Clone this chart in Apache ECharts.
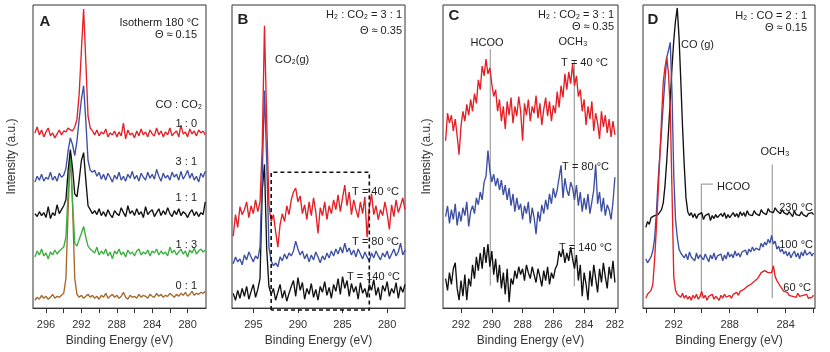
<!DOCTYPE html>
<html>
<head>
<meta charset="utf-8">
<script src="https://cdn.jsdelivr.net/npm/echarts@6/dist/echarts.min.js"></script>
<style>
html, body { margin: 0; padding: 0; background: #fff; }
#chart { width: 830px; height: 352px; }
</style>
</head>
<body>
<div id="chart"></div>
<script>
// binding energy grids (eV)
const energyWide = [297.25, 297, 296.75, 296.5, 296.25, 296, 295.75, 295.5, 295.25, 295,
  294.75, 294.5, 294.25, 294, 293.75, 293.5, 293.25, 293, 292.75, 292.5,
  292.25, 292, 291.75, 291.5, 291.25, 291, 290.75, 290.5, 290.25, 290,
  289.75, 289.5, 289.25, 289, 288.75, 288.5, 288.25, 288, 287.75, 287.5,
  287.25, 287, 286.75, 286.5, 286.25, 286, 285.75, 285.5, 285.25, 285,
  284.75, 284.5, 284.25, 284, 283.75, 283.5, 283.25, 283, 282.75, 282.5,
  282.25, 282, 281.75, 281.5, 281.25, 281, 280.75, 280.5, 280.25, 280,
  279.75, 279.5, 279.25, 279, 278.75, 278.5, 278.25, 278];
const energyC = [293, 292.875, 292.75, 292.625, 292.5, 292.375, 292.25, 292.125, 292,
  291.875, 291.75, 291.625, 291.5, 291.375, 291.25, 291.125, 291,
  290.875, 290.75, 290.625, 290.5, 290.375, 290.25, 290.125, 290,
  289.875, 289.75, 289.625, 289.5, 289.375, 289.25, 289.125, 289,
  288.875, 288.75, 288.625, 288.5, 288.375, 288.25, 288.125, 288,
  287.875, 287.75, 287.625, 287.5, 287.375, 287.25, 287.125, 287,
  286.875, 286.75, 286.625, 286.5, 286.375, 286.25, 286.125, 286,
  285.875, 285.75, 285.625, 285.5, 285.375, 285.25, 285.125, 285,
  284.875, 284.75, 284.625, 284.5, 284.375, 284.25, 284.125, 284,
  283.875, 283.75, 283.625, 283.5, 283.375, 283.25, 283.125, 283,
  282.875, 282.75, 282.625, 282.5, 282.375, 282.25, 282.125, 282];
const energyD = [294, 293.875, 293.75, 293.625, 293.5, 293.375, 293.25, 293.125].concat(energyC);

// panel A : isotherm 180 C, CO:CO2 ratios
const aRed = [178,184,176,181,174,179,183,175,178,173, 177,181,176,180,179,183,181,180,184,192,
  218,262,304,250,195,183,180,176,181,175, 179,177,182,174,178,176,180,174,179,175,
  188,172,181,176,178,173,180,175,182,176, 179,174,181,177,175,183,176,180,174,179,
  176,183,175,178,180,174,186,177,179,174, 182,177,180,175,181,178,180,176];
const aBlue = [128,134,130,136,129,133,131,138,130,134, 129,137,133,135,142,160,173,166,155,170,
  192,212,226,190,150,140,138,140,134,138, 131,136,130,137,133,128,135,131,138,130,
  134,129,136,132,139,131,135,129,137,133, 130,138,132,136,131,141,134,129,137,132,
  135,130,138,133,136,130,139,131,135,140, 132,137,130,134,128,137,133,139];
const aBlack = [96,93,98,94,97,92,103,91,97,94, 105,96,100,104,110,140,161,142,116,113,
  130,150,158,130,104,100,96,99,95,101, 94,98,93,100,95,92,99,96,94,102,
  97,93,104,96,99,94,101,95,98,92, 103,95,98,100,93,97,101,94,99,95,
  102,96,93,99,95,101,94,98,96,92, 97,100,94,98,93,97,95,108];
const aGreen = [52,58,54,60,53,56,50,57,54,59, 55,58,60,62,72,118,157,108,66,63,
  70,76,83,72,63,60,58,56,62,54, 58,55,60,53,57,50,58,55,60,54,
  57,52,59,55,57,53,58,60,54,57, 55,59,53,58,56,60,54,58,55,57,
  53,62,56,59,54,57,60,55,58,52, 59,56,61,55,58,60,57,59];
const aBrown = [8,11,9,13,10,12,9,11,14,10, 12,11,13,15,30,100,158,105,30,14,
  11,13,10,12,14,11,13,10,12,9, 13,11,15,10,12,14,11,13,10,12,
  16,11,9,13,11,12,10,14,11,13, 12,10,14,12,11,15,12,14,11,13,
  12,15,13,11,14,12,15,13,16,12, 14,17,13,15,14,16,15,17];

// panel B : H2:CO2 = 3:1
const bRed = [73,95,82,103,95,100,108,92,104,96, 110,98,108,165,287,190,105,88,95,78,
  62,85,96,88,104,95,110,118,122,108, 114,96,105,90,108,94,112,98,76,102,
  94,108,90,104,96,110,100,115,98,112, 125,104,118,95,110,100,92,108,96,113,
  72,102,116,95,104,90,100,94,108,96, 80,105,93,110,97,104,112,100];
const bBlue = [45,52,47,50,44,54,49,57,52,47, 53,50,62,135,221,150,62,48,43,46,
  42,52,48,55,50,56,53,58,68,60, 54,58,50,55,47,54,49,57,52,46,
  53,49,56,51,58,53,60,55,62,56, 66,57,61,54,59,52,60,55,50,57,
  52,48,56,51,58,53,49,56,52,58, 50,55,60,53,57,66,54,59];
const bBlack = [15,8,18,10,20,12,22,9,17,24, 11,19,30,120,146,60,22,14,20,8,
  16,24,10,18,7,15,22,28,12,31, 18,26,9,20,14,25,11,19,8,22,
  16,27,13,21,10,24,17,30,14,32, 20,28,12,25,16,22,9,26,15,20,
  11,24,18,29,13,21,8,23,17,27, 12,20,15,26,10,22,16,24];

// panel C : zoom of B
const cRed = [170,198,188,196,180,192,175,156,185,200, 190,207,196,212,200,218,208,232,222,246,
  236,253,238,244,228,215,222,200,212,190, 205,182,210,196,214,188,205,195,215,200,
  170,208,196,212,190,205,198,216,193,208, 186,202,214,195,210,190,206,198,220,204,
  226,214,238,222,240,228,248,226,236,215, 222,200,212,186,205,192,210,180,198,188,
  172,200,184,196,178,192,174,190,176];
const cBlue = [93,104,86,100,90,106,84,98,88,102, 94,108,83,98,104,96,112,105,118,110,
  128,134,160,140,128,136,124,132,120,130, 115,125,110,122,104,116,98,112,100,106,
  90,104,96,108,86,102,92,75,98,88, 105,96,110,100,116,106,122,112,120,118,
  145,112,132,120,114,128,122,110,125,104, 118,98,112,100,116,96,108,120,146,106,
  118,98,112,94,105,100,90,108,133];
const cBlack = [30,18,36,24,40,46,20,8,28,12, 34,8,30,22,44,30,52,38,56,40,
  62,46,65,42,58,34,50,26,44,20, 36,14,40,6,30,24,38,30,42,34,
  40,28,44,36,30,42,34,26,40,32, 22,38,28,42,24,36,30,40,44,58,
  52,60,46,56,48,62,50,40,54,28, 44,12,36,24,8,38,22,44,30,16,
  40,26,46,32,20,42,30,48,26];

// panel D : H2:CO = 2:1
const dBlack = [82,88,85,92,90,94,93,95,97,100, 107,125,150,180,212,245,272,292,305,276,
  232,185,145,112,98,94,97,92,96,91, 95,93,97,90,94,92,96,89,94,91,
  95,92,90,96,93,97,91,95,92,94, 97,93,96,92,98,94,97,93,99,95,
  97,94,99,96,98,94,100,97,99,95, 101,98,100,97,102,99,101,96,100,97,
  99,95,98,96,93,99,95,97,94,98, 95,97,93,96,94,97,95];
const dBlue = [50,46,44,52,58,70,95,128,155,180, 208,232,255,262,270,218,135,90,72,60,
  56,58,51,55,49,57,52,54,48,56, 50,54,52,49,55,51,47,54,50,56,
  49,53,51,55,48,54,50,57,52,55, 51,58,53,56,52,57,55,59,54,60,
  57,62,58,61,63,59,66,62,67,64, 70,66,74,65,68,60,63,57,60,55,
  58,53,57,51,55,58,52,56,50,57, 53,59,54,52,57,53,56];
const dRed = [10,14,12,18,24,48,80,115,153,192, 230,245,255,238,200,118,32,18,14,16,
  11,15,10,13,9,12,8,13,10,14, 9,12,17,10,13,8,12,10,14,9,
  12,11,8,13,10,14,11,9,13,10, 14,12,16,13,17,15,19,17,22,20,
  24,22,27,25,30,33,36,34,38,40, 36,38,36,43,32,28,25,22,20,17,
  15,16,13,15,12,14,11,15,12,10, 13,11,14,10,12,11,13];

// axis ticks / labels
const ticksA = [296, 294, 292, 290, 288, 286, 284, 282, 280];
const labelsA = [296, 292, 288, 284, 280];
const ticksB = [295, 290, 285, 280];
const ticksC = [292, 290, 288, 286, 284, 282];
const ticksD = [294, 292, 290, 288, 286, 284, 282];
const labelsD = [292, 288, 284];

// reference lines (energy, from, to)
const refC = [[290.1, 23, 263], [284.64, 22, 252]];
const refD = [[290.03, 10, 126], [284.96, 10, 146]];
const leaderD = [[290.03, 126], [289.2, 126]];
// zoom window shown in B
const boxB = [[293, -2], [293, 138], [282, 138], [282, -2], [293, -2]];

const RED = '#e41f26', BLUE = '#3d4fa2', BLACK = '#111', GREEN = '#3cae3f', BROWN = '#a4682b';
const FONT = 'Liberation Sans, Arial, sans-serif';

const chart = echarts.init(document.getElementById('chart'));

const gridBox = [
  { left: 33, top: 5, width: 173, height: 308 },
  { left: 232, top: 5, width: 173, height: 308 },
  { left: 443, top: 5, width: 175, height: 307 },
  { left: 643, top: 5, width: 172, height: 307 }
];
const ranges = [[277.92, 297.47], [278.0, 297.39], [281.8, 293.17], [281.9, 294.2]];
const tickSets = [ticksA, ticksB, ticksC, ticksD];
const labelSets = [labelsA, ticksB, ticksC, labelsD];

const xAxes = ranges.map((r, k) => ({
  gridIndex: k, type: 'value', inverse: true, min: r[0], max: r[1],
  axisLine: { show: true, onZero: false, lineStyle: { color: '#333', width: 1 } },
  axisTick: { show: true, inside: false, length: 5, customValues: tickSets[k], lineStyle: { color: '#333' } },
  axisLabel: { customValues: labelSets[k], color: '#333', fontSize: 11, margin: 11, fontFamily: FONT },
  splitLine: { show: false },
  name: 'Binding Energy (eV)', nameLocation: 'middle', nameGap: 25,
  nameTextStyle: { color: '#333', fontSize: 12, fontFamily: FONT }
}));

const yAxes = [0, 1, 2, 3].map(k => ({
  gridIndex: k, type: 'value', min: 0, max: 308,
  axisLine: { show: false }, axisTick: { show: false }, axisLabel: { show: false },
  splitLine: { show: false },
  name: (k === 0 || k === 2) ? 'Intensity (a.u.)' : '',
  nameLocation: 'middle', nameRotate: 90, nameGap: k === 0 ? 15 : 10,
  nameTextStyle: { color: '#333', fontSize: 12, fontFamily: FONT }
}));

function trace(k, energy, vals, color) {
  return {
    type: 'line', xAxisIndex: k, yAxisIndex: k, showSymbol: false, silent: true,
    data: energy.map((e, i) => [e, vals[i]]),
    lineStyle: { color: color, width: 1.35 }, itemStyle: { color: color }
  };
}
function seg(k, pts, color, width, type) {
  return {
    type: 'line', xAxisIndex: k, yAxisIndex: k, showSymbol: false, silent: true, clip: false,
    data: pts, lineStyle: { color: color, width: width, type: type || 'solid' }, itemStyle: { color: color }
  };
}

const series = [
  trace(0, energyWide, aBrown, BROWN),
  trace(0, energyWide, aGreen, GREEN),
  trace(0, energyWide, aBlack, BLACK),
  trace(0, energyWide, aBlue, BLUE),
  trace(0, energyWide, aRed, RED),
  trace(1, energyWide, bBlack, BLACK),
  trace(1, energyWide, bBlue, BLUE),
  trace(1, energyWide, bRed, RED),
  seg(1, boxB, '#111', 1.6, [4, 3]),
  seg(2, [[refC[0][0], refC[0][1]], [refC[0][0], refC[0][2]]], '#8c8c8c', 1),
  seg(2, [[refC[1][0], refC[1][1]], [refC[1][0], refC[1][2]]], '#8c8c8c', 1),
  trace(2, energyC, cBlack, BLACK),
  trace(2, energyC, cBlue, BLUE),
  trace(2, energyC, cRed, RED),
  seg(3, [[refD[0][0], refD[0][1]], [refD[0][0], refD[0][2]]], '#8c8c8c', 1),
  seg(3, leaderD, '#8c8c8c', 1),
  seg(3, [[refD[1][0], refD[1][1]], [refD[1][0], refD[1][2]]], '#8c8c8c', 1),
  trace(3, energyD, dBlack, BLACK),
  trace(3, energyD, dBlue, BLUE),
  trace(3, energyD, dRed, RED)
];

function txt(x, y, text, align, size, bold) {
  return {
    type: 'text', x: x, y: y, silent: true, z: 100,
    style: {
      text: text, fill: '#222', textAlign: align || 'left', textVerticalAlign: 'middle',
      fontSize: size || 11, fontFamily: FONT, fontWeight: bold ? 'bold' : 'normal'
    }
  };
}

const graphic = [
  // A
  txt(45, 22, 'A', 'center', 15, true),
  txt(199, 23, 'Isotherm 180 °C', 'right'),
  txt(197, 35, 'Θ ≈ 0.15', 'right'),
  txt(202, 105, 'CO : CO₂', 'right'),
  txt(197, 124, '1 : 0', 'right'),
  txt(197, 162, '3 : 1', 'right'),
  txt(197, 198, '1 : 1', 'right'),
  txt(197, 245, '1 : 3', 'right'),
  txt(197, 286, '0 : 1', 'right'),
  // B
  txt(243, 20, 'B', 'center', 15, true),
  txt(402, 15, 'H₂ : CO₂ = 3 : 1', 'right'),
  txt(402, 31, 'Θ ≈ 0.35', 'right'),
  txt(275, 60, 'CO₂(g)', 'left'),
  txt(399, 192, 'T = 40 °C', 'right'),
  txt(399, 242, 'T = 80 °C', 'right'),
  txt(400, 277, 'T = 140 °C', 'right'),
  // C
  txt(454, 16, 'C', 'center', 15, true),
  txt(614, 15, 'H₂ : CO₂ = 3 : 1', 'right'),
  txt(614, 27, 'Θ ≈ 0.35', 'right'),
  txt(487, 43, 'HCOO', 'center'),
  txt(573, 42, 'OCH₃', 'center'),
  txt(608, 63, 'T = 40 °C', 'right'),
  txt(609, 167, 'T = 80 °C', 'right'),
  txt(612, 248, 'T = 140 °C', 'right'),
  // D
  txt(653, 20, 'D', 'center', 15, true),
  txt(807, 16, 'H₂ : CO = 2 : 1', 'right'),
  txt(807, 28, 'Θ ≈ 0.15', 'right'),
  txt(681, 45, 'CO (g)', 'left'),
  txt(717, 187, 'HCOO', 'left'),
  txt(775, 152, 'OCH₃', 'center'),
  txt(813, 208, '230 °C', 'right'),
  txt(813, 245, '100 °C', 'right'),
  txt(811, 288, '60 °C', 'right')
];

chart.setOption({
  animation: false,
  backgroundColor: '#fff',
  grid: gridBox.map(g => Object.assign({ show: true, borderColor: '#333', borderWidth: 1, containLabel: false }, g)),
  xAxis: xAxes,
  yAxis: yAxes,
  series: series,
  graphic: graphic
});
</script>
</body>
</html>
